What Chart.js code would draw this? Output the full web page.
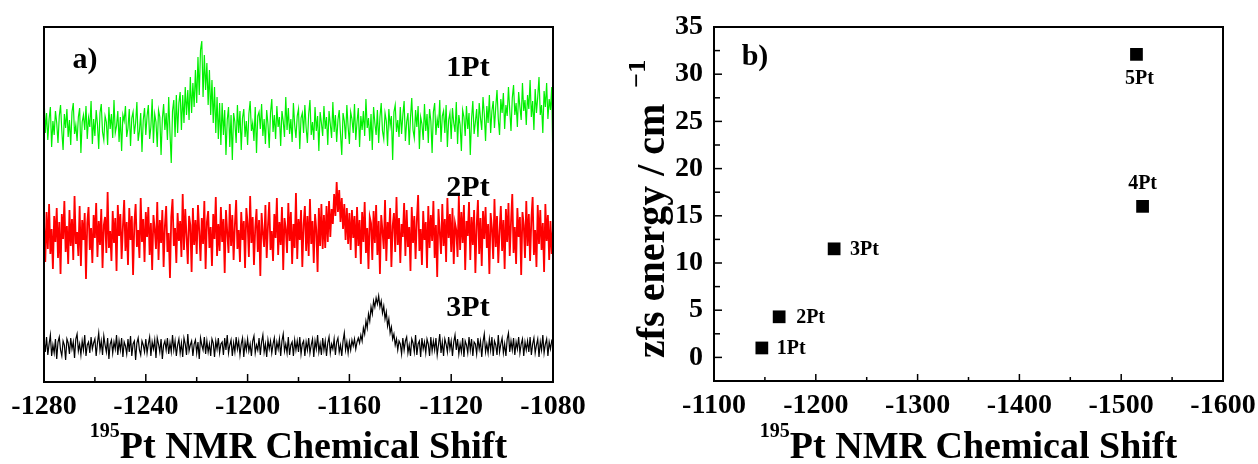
<!DOCTYPE html>
<html>
<head>
<meta charset="utf-8">
<script src="https://cdn.jsdelivr.net/npm/chart.js@4"></script>
<style>
  html, body { margin: 0; padding: 0; background: #fff; }
  body { width: 1258px; height: 464px; position: relative; overflow: hidden; }
  .pane { position: absolute; top: 0; height: 464px; }
</style>
</head>
<body>
<div class="pane" style="left:0;width:629px"><canvas id="chartA"></canvas></div>
<div class="pane" style="left:629px;width:629px"><canvas id="chartB"></canvas></div>
<script>
/* ========================================
   195Pt NMR spectra (a) + zfs energy vs shift (b)
   ======================================== */

// ── a) 스펙트럼 데이터 (-1280 → -1080 ppm, 0.5 ppm 간격, 기준선 대비 세기) ──
var shiftRange = [-1280, -1080];
var specLabels = ['1Pt', '2Pt', '3Pt'];
var specOffsets = [257, 148, 35];

var spec1Pt = [
  30, -8, 12, -15, 6, 18, -22, 4, -10, 14, 2, -18, 9, 20, -6, -25, 11, -3, 16, -12,
  5, -20, 13, 22, -9, 0, -16, 8, 17, -28, 3, 10, -5, 19, -14, 7, -2, 24, -19, 6,
  -11, 15, 1, -24, 12, 21, -7, -15, 9, 3, -20, 18, -4, 11, -13, 25, -8, -1, 14, -17,
  8, -26, 10, 4, 19, -12, -3, 16, -21, 7, 13, -9, 2, 23, -16, -6, 12, -27, 5, 17,
  -10, 9, 20, -14, -2, 26, -18, 11, 3, -22, 15, 8, -30, 6, 21, -5, 12, -15, 28, -8,
  -38, 14, 25, -12, 30, -8, 22, 33, -5, 30, 2, 38, 10, 35, 5, 48, 12, 42, 18, 55,
  22, 68, 30, 75, 84, 28, 70, 35, 62, 20, 55, 10, 45, 2, 38, -8, 28, -14, 22, -20,
  22, -10, 15, -30, 5, 18, -22, 10, -35, 12, 3, -18, 20, -8, 14, -25, 7, 16, -12, 4,
  -20, 11, 24, -6, 2, -16, 18, -28, 9, 13, -4, 21, -11, 6, -19, 15, 1, -23, 12, 26,
  -7, 10, -14, 19, -2, 8, -21, 14, 4, -12, 28, -5, 17, -9, 6, -17, 22, 0, -13, 9,
  16, -24, 7, 12, -8, 20, -3, -18, 11, 25, -10, 3, -15, 18, -6, 9, -26, 13, 2, -11,
  19, -4, 8, -20, 14, 1, -13, 23, -7, 10, -17, 5, 15, -9, -30, 12, 4, -14, 20, -2,
  -19, 13, 6, -8, 21, -15, 3, 17, -22, 9, -5, 14, -11, 26, -3, 7, -16, 11, -25, 18,
  2, -10, 15, -18, 8, 22, -6, -14, 12, 4, -21, 16, -1, 9, -35, 13, 20, -7, 5, -12,
  18, -9, 10, 24, -16, 3, 12, -20, 7, 27, -5, -13, 15, -2, 19, -24, 8, 1, -15, 21,
  -6, 11, -18, 16, 4, -28, 13, 22, -10, 6, -3, 25, -17, 9, 14, -8, 20, -22, 5, 12,
  -14, 17, 2, -7, 23, -19, 10, 0, -26, 15, 8, -11, 19, -4, 12, -30, 6, 24, -9, 3,
  16, -12, 22, 7, -5, 28, 11, -16, 19, 2, 30, -8, 14, 24, -3, 18, 35, 6, -10, 26,
  12, 32, -4, 20, 9, 38, 15, -6, 27, 40, 10, 22, -2, 33, 18, 5, 42, 14, 25, 0,
  30, 16, 45, 8, 24, -5, 36, 12, 28, 48, 10, 20, -8, 34, 18, 42, 6, 26, 15, 38,
  -45
];

var spec2Pt = [
  10, -28, 22, -15, 30, -20, 5, -35, 18, -8, 26, -24, 12, -40, 20, -5, 33, -18, 8, -30,
  24, -12, 15, -26, 38, -10, 2, -22, 28, -32, 14, -6, 21, -45, 11, 27, -16, 6, -29, 19,
  -4, 31, -23, 13, -11, 25, -34, 9, 17, -19, 42, -14, 3, -27, 23, -9, 16, -37, 29, -2,
  20, -25, 7, 34, -17, 12, -31, 26, -6, 18, -41, 10, 30, -13, 4, -24, 36, -8, 15, -28,
  22, -3, 27, -21, 11, -36, 19, 5, -15, 32, -26, 14, -9, 24, -33, 8, 28, -18, 1, -44,
  17, 35, -12, 6, -29, 21, -7, 13, -23, 40, -16, 25, -2, -30, 18, 9, -38, 26, -11, 14,
  -20, 29, 3, -27, 16, -10, 33, -35, 12, 23, -14, 7, -32, 20, -5, 37, -22, 10, -17, 27,
  -8, 15, -39, 24, 2, -19, 30, -12, 19, -26, 9, 34, -15, 4, -28, 22, -6, 13, -34, 26,
  11, -23, 38, -9, 17, -31, 6, 25, -18, 14, -42, 21, 1, -13, 29, -24, 8, 32, -16, 3,
  -27, 20, -4, 36, -21, 12, -11, 27, -36, 16, 5, -19, 31, -7, 22, -30, 10, -14, 41, -25,
  15, -6, 24, -33, 9, 28, -17, 18, -22, 35, -10, 13, -29, 20, 4, -38, 26, -12, 30, -15,
  19, -14, 28, -8, 33, -3, 25, 10, 40, 18, 52, 22, 44, 12, 36, 5, 30, -6, 26, -10,
  21, -16, 24, -4, 18, -24, 27, -12, 14, -30, 22, -8, 32, -19, 6, -35, 17, 11, -26, 23,
  -9, 29, -21, 13, -40, 19, 3, -15, 34, -27, 12, -5, 26, -33, 8, 21, -18, 37, -11, 16,
  -29, 10, -3, 31, -22, 24, -13, 7, -37, 27, -9, 18, -25, 14, 39, -17, 5, -31, 23, -6,
  12, -34, 28, -14, 19, -7, 33, -24, 9, -43, 25, 2, -20, 30, -12, 15, -28, 36, -4, 20,
  -18, 26, -30, 11, 4, -23, 38, -16, 22, -9, 29, -36, 13, -2, 32, -26, 17, -11, 24, -39,
  8, 34, -20, 16, -32, 23, -5, 27, -14, 10, -40, 21, 6, -25, 35, -13, 18, -29, 3, 28,
  -17, 14, -35, 25, -8, 31, -22, 12, 40, -19, 7, -30, 26, -3, 17, -41, 22, 9, -24, 33,
  -12, 20, -27, 15, 37, -21, 4, -33, 29, -10, 24, -16, 11, -38, 30, -7, 19, -26, 13, -20,
  6
];

var spec3Pt = [
  7, -5, 10, -8, 3, 12, -9, 2, -6, 8, -12, 5, 10, -3, -9, 6, 2, -13, 8, 4,
  -7, 9, -2, 5, -11, 8, 13, -4, 3, -8, 6, -3, 12, -9, 2, 5, -6, 10, -2, 4,
  8, -9, 4, 14, -3, 6, -8, 11, 2, -5, 9, -12, 3, 7, -6, 5, -2, 12, -8, 6,
  -3, 9, -10, 5, 1, -7, 8, -5, 11, -9, 3, 6, -13, 4, 9, -3, -8, 6, 2, -5,
  8, -6, 3, 10, -9, 5, -2, 7, -11, 9, 3, -5, 8, -12, 2, 6, -3, 9, -7, 4,
  -5, 12, -3, 6, -9, 2, 8, -6, 4, -10, 9, 3, -8, 13, -4, 2, 6, -9, 3, 7,
  -6, 5, -12, 9, 2, -3, 10, -7, 6, -5, 3, -9, 8, 4, -10, 6, -2, 9, -6, 3,
  5, -8, 9, -3, 12, -6, 2, 7, -9, 4, -5, 10, -2, 6, -8, 3, 9, -10, 5, -3,
  8, -4, 3, -9, 6, 11, -6, 2, -3, 9, -8, 5, 12, -5, 3, -10, 7, -2, 6, -6,
  3, 9, -8, 5, -2, 8, -9, 6, 13, -4, 3, -6, 10, -8, 2, 5, -9, 7, -3, 6,
  -5, 10, -7, 3, 6, -9, 5, -3, 9, -6, 2, 8, -10, 6, -2, 12, -5, 3, -8, 9,
  -3, 6, -9, 4, 10, -6, 3, -2, 8, -8, 5, 9, -5, 2, -9, 6, 14, -3, 5, -6,
  5, -3, 7, 1, 8, -2, 5, 9, 4, 12, 6, 19, 13, 26, 19, 33, 26, 40, 33, 46,
  40, 49, 43, 51, 40, 46, 34, 41, 28, 35, 21, 28, 14, 20, 8, 13, 2, 8, -3, 6,
  3, -7, 9, -3, 6, 10, -6, 2, -9, 8, 4, -5, 12, -8, 3, 6, -10, 9, -2, 5,
  -6, 8, 3, -9, 10, -4, 6, -3, 9, -8, 2, 13, -6, 5, -9, 8, 3, -5, 10, -2,
  6, -9, 5, 12, -3, 8, -7, 3, -5, 9, -10, 6, 2, -6, 10, -3, 8, -9, 5, 3,
  -7, 9, -2, 6, -10, 5, 13, -5, 3, -6, 8, -3, 10, -9, 6, 2, -8, 12, -5, 3,
  9, -6, 3, -9, 8, 14, -5, 6, -3, 9, -8, 5, -2, 10, -6, 3, 8, -9, 5, -3,
  6, -5, 10, -8, 3, 9, -6, 2, 8, -10, 5, -3, 12, -6, 3, 8, -9, 5, -2, 6,
  3
];

var specColors = ['#00f000', '#ff0000', '#000000'];
var specWidths = [1.2, 1.8, 1.2];
var shiftTicksA = [-1280, -1240, -1200, -1160, -1120, -1080];
var shiftMinorA = [-1260, -1220, -1180, -1140, -1100];

// ── b) zfs 에너지 데이터 ──
var zfsLabels = ['1Pt', '2Pt', '3Pt', '4Pt', '5Pt'];
var zfsShift = [-1147, -1164, -1218, -1521, -1515];
var zfsEnergy = [1.0, 4.3, 11.5, 16.0, 32.1];
var shiftTicksB = [-1100, -1200, -1300, -1400, -1500, -1600];
var shiftMinorB = [-1150, -1250, -1350, -1450, -1550];
var energyTicks = [0, 5, 10, 15, 20, 25, 30, 35];
var energyMinor = [2.5, 7.5, 12.5, 17.5, 22.5, 27.5, 32.5];

// ── 공통 스타일 ──
var SERIF = '"Liberation Serif", "Times New Roman", Times, serif';

function buildSpectrum(values, offset) {
  var pts = [];
  var step = (shiftRange[1] - shiftRange[0]) / (values.length - 1);
  for (var i = 0; i < values.length; i++) {
    pts.push({ x: shiftRange[0] + i * step, y: offset + values[i] });
  }
  return pts;
}

function tickList(values) {
  return values.map(function(v) { return { value: v }; });
}

// x축 제목: 195 위첨자 + 본문
function drawShiftTitle(ctx, cx, baseY) {
  ctx.textAlign = 'left';
  ctx.textBaseline = 'alphabetic';
  ctx.font = 'bold 20px ' + SERIF;
  var w1 = ctx.measureText('195').width;
  ctx.font = 'bold 38px ' + SERIF;
  var w2 = ctx.measureText('Pt NMR Chemical Shift').width;
  var x0 = cx - (w1 + w2) / 2;
  ctx.font = 'bold 20px ' + SERIF;
  ctx.fillText('195', x0, baseY - 21);
  ctx.font = 'bold 38px ' + SERIF;
  ctx.fillText('Pt NMR Chemical Shift', x0 + w1, baseY);
}

function tickLine(ctx, x1, y1, x2, y2) {
  ctx.beginPath();
  ctx.moveTo(x1, y1);
  ctx.lineTo(x2, y2);
  ctx.stroke();
}

// ── a) 프레임/라벨 플러그인 ──
var frameA = {
  id: 'frameA',
  afterDraw: function(chart) {
    var ctx = chart.ctx, a = chart.chartArea, xs = chart.scales.x;
    ctx.save();
    ctx.strokeStyle = '#000';
    ctx.lineWidth = 2;
    ctx.strokeRect(a.left, a.top, a.right - a.left, a.bottom - a.top);
    ctx.lineWidth = 1.5;
    shiftTicksA.forEach(function(v) {
      var x = xs.getPixelForValue(v);
      tickLine(ctx, x, a.bottom, x, a.bottom - 8);
    });
    shiftMinorA.forEach(function(v) {
      var x = xs.getPixelForValue(v);
      tickLine(ctx, x, a.bottom, x, a.bottom - 5);
    });

    ctx.fillStyle = '#000';
    ctx.textAlign = 'center';
    ctx.textBaseline = 'middle';
    ctx.font = 'bold 30px ' + SERIF;
    ctx.fillText('a)', 85, 60);
    var labelY = [68, 188, 308];
    for (var i = 0; i < specLabels.length; i++) {
      ctx.fillText(specLabels[i], 468, labelY[i]);
    }
    drawShiftTitle(ctx, (a.left + a.right) / 2, 458);
    ctx.restore();
  }
};

// ── b) 프레임/라벨 플러그인 ──
var labelPlace = [
  { dx: 15, dy: 1, align: 'left' },
  { dx: 17, dy: 1, align: 'left' },
  { dx: 16, dy: 1, align: 'left' },
  { dx: 0, dy: -23, align: 'center' },
  { dx: 3, dy: 24, align: 'center' }
];

var frameB = {
  id: 'frameB',
  afterDraw: function(chart) {
    var ctx = chart.ctx, a = chart.chartArea;
    var xs = chart.scales.x, ys = chart.scales.y;
    ctx.save();
    ctx.strokeStyle = '#000';
    ctx.lineWidth = 2;
    ctx.strokeRect(a.left, a.top, a.right - a.left, a.bottom - a.top);
    ctx.lineWidth = 1.5;
    energyTicks.forEach(function(v) {
      var y = ys.getPixelForValue(v);
      tickLine(ctx, a.left, y, a.left + 8, y);
    });
    energyMinor.forEach(function(v) {
      var y = ys.getPixelForValue(v);
      tickLine(ctx, a.left, y, a.left + 6, y);
    });
    shiftTicksB.forEach(function(v) {
      var x = xs.getPixelForValue(v);
      tickLine(ctx, x, a.bottom, x, a.bottom - 7);
    });
    shiftMinorB.forEach(function(v) {
      var x = xs.getPixelForValue(v);
      tickLine(ctx, x, a.bottom, x, a.bottom - 4);
    });

    ctx.fillStyle = '#000';
    ctx.textBaseline = 'middle';
    ctx.textAlign = 'center';
    ctx.font = 'bold 30px ' + SERIF;
    ctx.fillText('b)', a.left + 41, 57);

    // 점 라벨
    var meta = chart.getDatasetMeta(0);
    ctx.font = 'bold 20px ' + SERIF;
    for (var i = 0; i < zfsLabels.length; i++) {
      var pt = meta.data[i];
      ctx.textAlign = labelPlace[i].align;
      ctx.fillText(zfsLabels[i], pt.x + labelPlace[i].dx, pt.y + labelPlace[i].dy);
    }

    // y축 제목 (회전)
    ctx.save();
    ctx.translate(35, 358);
    ctx.rotate(-Math.PI / 2);
    ctx.textAlign = 'left';
    ctx.textBaseline = 'alphabetic';
    ctx.font = 'bold 40px ' + SERIF;
    var main = 'zfs energy / cm';
    ctx.fillText(main, 0, 0);
    var w = ctx.measureText(main).width;
    ctx.font = 'bold 26px ' + SERIF;
    ctx.fillText('\u22121', w + 16, -19);
    ctx.restore();

    drawShiftTitle(ctx, (a.left + a.right) / 2, 458);
    ctx.restore();
  }
};

// ── 차트 생성 ──
function tickFont() {
  return { family: SERIF, size: 28, weight: 'bold' };
}

var specDatasets = [];
var specData = [spec1Pt, spec2Pt, spec3Pt];
for (var s = 0; s < specData.length; s++) {
  specDatasets.push({
    label: specLabels[s],
    data: buildSpectrum(specData[s], specOffsets[s]),
    borderColor: specColors[s],
    borderWidth: specWidths[s],
    pointRadius: 0,
    tension: 0
  });
}

new Chart(document.getElementById('chartA'), {
  type: 'line',
  data: { datasets: specDatasets },
  options: {
    animation: false,
    responsive: true,
    maintainAspectRatio: false,
    layout: { padding: { left: 44, top: 27, right: 76, bottom: 0 } },
    plugins: { legend: { display: false }, tooltip: { enabled: false } },
    scales: {
      x: {
        type: 'linear',
        min: shiftRange[0],
        max: shiftRange[1],
        afterBuildTicks: function(axis) { axis.ticks = tickList(shiftTicksA); },
        afterFit: function(axis) { axis.height = 82; },
        grid: { display: false },
        border: { display: false },
        ticks: {
          font: tickFont(),
          color: '#000',
          padding: 0,
          maxRotation: 0,
          autoSkip: false,
          callback: function(v) { return String(v); }
        }
      },
      y: { display: false, min: 0, max: 355 }
    }
  },
  plugins: [frameA]
});

var zfsPoints = [];
for (var k = 0; k < zfsShift.length; k++) {
  zfsPoints.push({ x: zfsShift[k], y: zfsEnergy[k] });
}

new Chart(document.getElementById('chartB'), {
  type: 'scatter',
  data: {
    datasets: [{
      data: zfsPoints,
      pointStyle: 'rect',
      pointRadius: 9,
      backgroundColor: '#000',
      borderWidth: 0
    }]
  },
  options: {
    animation: false,
    responsive: true,
    maintainAspectRatio: false,
    layout: { padding: { left: 0, top: 27, right: 35, bottom: 0 } },
    plugins: { legend: { display: false }, tooltip: { enabled: false } },
    scales: {
      x: {
        type: 'linear',
        reverse: true,
        min: -1600,
        max: -1100,
        afterBuildTicks: function(axis) { axis.ticks = tickList(shiftTicksB); },
        afterFit: function(axis) { axis.height = 83; },
        grid: { display: false },
        border: { display: false },
        ticks: {
          font: tickFont(),
          color: '#000',
          padding: 0,
          maxRotation: 0,
          autoSkip: false,
          callback: function(v) { return String(v); }
        }
      },
      y: {
        type: 'linear',
        min: -2.5,
        max: 35,
        afterBuildTicks: function(axis) { axis.ticks = tickList(energyTicks); },
        afterFit: function(axis) { axis.width = 85; },
        grid: { display: false },
        border: { display: false },
        ticks: {
          font: tickFont(),
          color: '#000',
          padding: 3,
          autoSkip: false,
          callback: function(v) { return String(v); }
        }
      }
    }
  },
  plugins: [frameB]
});
</script>
</body>
</html>
